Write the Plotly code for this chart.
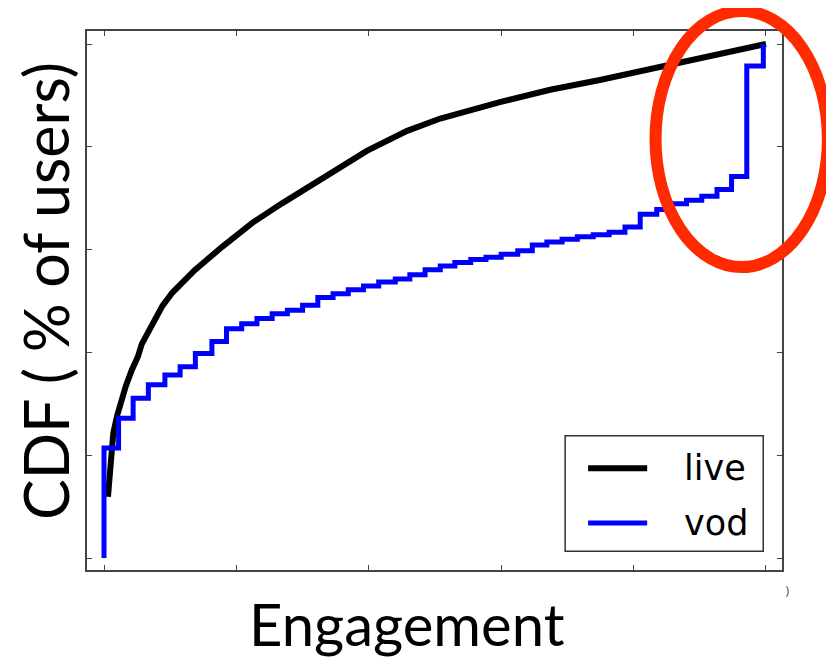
import plotly.graph_objects as go

# live: smooth-ish CDF (engagement normalised to 0..1)
live_x = [0.006, 0.009, 0.014, 0.020, 0.026, 0.033, 0.042, 0.051, 0.057, 0.066,
          0.077, 0.088, 0.103, 0.112, 0.137, 0.178, 0.224, 0.269, 0.296, 0.319,
          0.346, 0.397, 0.458, 0.508, 0.598, 0.674, 0.749, 0.840, 0.950, 1.000]
live_y = [0.119, 0.181, 0.243, 0.278, 0.307, 0.335, 0.366, 0.391, 0.416, 0.438,
          0.469, 0.490, 0.516, 0.527, 0.560, 0.605, 0.652, 0.690, 0.712, 0.730,
          0.751, 0.792, 0.831, 0.855, 0.887, 0.911, 0.930, 0.955, 0.986, 1.000]

# vod: step CDF
vod_x = [0.000, 0.000, 0.022, 0.044, 0.067, 0.092, 0.115, 0.138, 0.163, 0.185,
         0.208, 0.231, 0.254, 0.277, 0.300, 0.323, 0.346, 0.369, 0.392, 0.415,
         0.440, 0.462, 0.485, 0.508, 0.530, 0.554, 0.577, 0.600, 0.625, 0.647,
         0.669, 0.692, 0.715, 0.739, 0.763, 0.787, 0.810, 0.835, 0.858, 0.880,
         0.903, 0.926, 0.948, 0.971, 0.996]
vod_y = [0.000, 0.214, 0.272, 0.311, 0.337, 0.356, 0.372, 0.398, 0.421, 0.446,
         0.456, 0.466, 0.475, 0.482, 0.492, 0.507, 0.514, 0.522, 0.529, 0.537,
         0.543, 0.551, 0.561, 0.568, 0.575, 0.581, 0.585, 0.591, 0.598, 0.609,
         0.615, 0.620, 0.625, 0.629, 0.634, 0.644, 0.669, 0.678, 0.689, 0.696,
         0.704, 0.717, 0.742, 0.957, 1.000]

tick_vals = [0, 0.2, 0.4, 0.6, 0.8, 1.0]

fig = go.Figure()
fig.add_trace(go.Scatter(x=live_x, y=live_y, name='live', mode='lines',
                         line=dict(color='black', width=6), showlegend=False))
fig.add_trace(go.Scatter(x=vod_x, y=vod_y, name='vod', mode='lines',
                         line=dict(color='#0000FF', width=5, shape='hv'), showlegend=False))

axis = dict(showgrid=False, zeroline=False, showticklabels=False, ticks='inside',
            ticklen=5, tickwidth=1, tickcolor='#444', showline=True, linecolor='#444',
            linewidth=1.5, mirror='ticks', tickvals=tick_vals)
fig.update_xaxes(range=[-0.0257, 1.0242], **axis)
fig.update_yaxes(range=[-0.0233, 1.0253], **axis)

# legend drawn by hand so the box and line samples match
leg_font = dict(family='DejaVu Sans', size=35, color='black')
shapes = [
    dict(type='rect', xref='paper', yref='paper', x0=0.688, x1=0.973, y0=0.035, y1=0.249,
         line=dict(color='#333', width=1.5), fillcolor='white', layer='above'),
    dict(type='line', xref='paper', yref='paper', x0=0.721, x1=0.806, y0=0.189, y1=0.189,
         line=dict(color='black', width=6)),
    dict(type='line', xref='paper', yref='paper', x0=0.721, x1=0.806, y0=0.087, y1=0.087,
         line=dict(color='#0000FF', width=5)),
    # red highlight ellipse
    dict(type='circle', xref='paper', yref='paper', x0=0.818, x1=1.066, y0=0.562, y1=1.037,
         line=dict(color='#FF2A00', width=12), layer='above'),
]
annotations = [
    dict(text='live', xref='paper', yref='paper', x=0.856, y=0.189, xanchor='left',
         yanchor='middle', showarrow=False, font=leg_font),
    dict(text='vod', xref='paper', yref='paper', x=0.856, y=0.087, xanchor='left',
         yanchor='middle', showarrow=False, font=leg_font),
    dict(text='Engagement', xref='paper', yref='paper', x=0.461, y=-0.100,
         xanchor='center', yanchor='middle', showarrow=False,
         font=dict(family='Lato', size=58, color='black')),
    dict(text='CDF ( % of users)', xref='paper', yref='paper', x=-0.060, y=0.518,
         xanchor='center', yanchor='middle', textangle=-90, showarrow=False,
         font=dict(family='Lato', size=61, color='black')),
    dict(text=')', xref='paper', yref='paper', x=1.0085, y=-0.04,
         xanchor='center', yanchor='middle', showarrow=False,
         font=dict(family='DejaVu Sans', size=12, color='#555')),
]

# page body adds an 8px offset, so the figure is 8px smaller and margins shifted
fig.update_layout(width=826, height=650, margin=dict(l=79, r=52, t=23, b=88),
                  paper_bgcolor='white', plot_bgcolor='white',
                  shapes=shapes, annotations=annotations)
fig.write_html("out.html")
